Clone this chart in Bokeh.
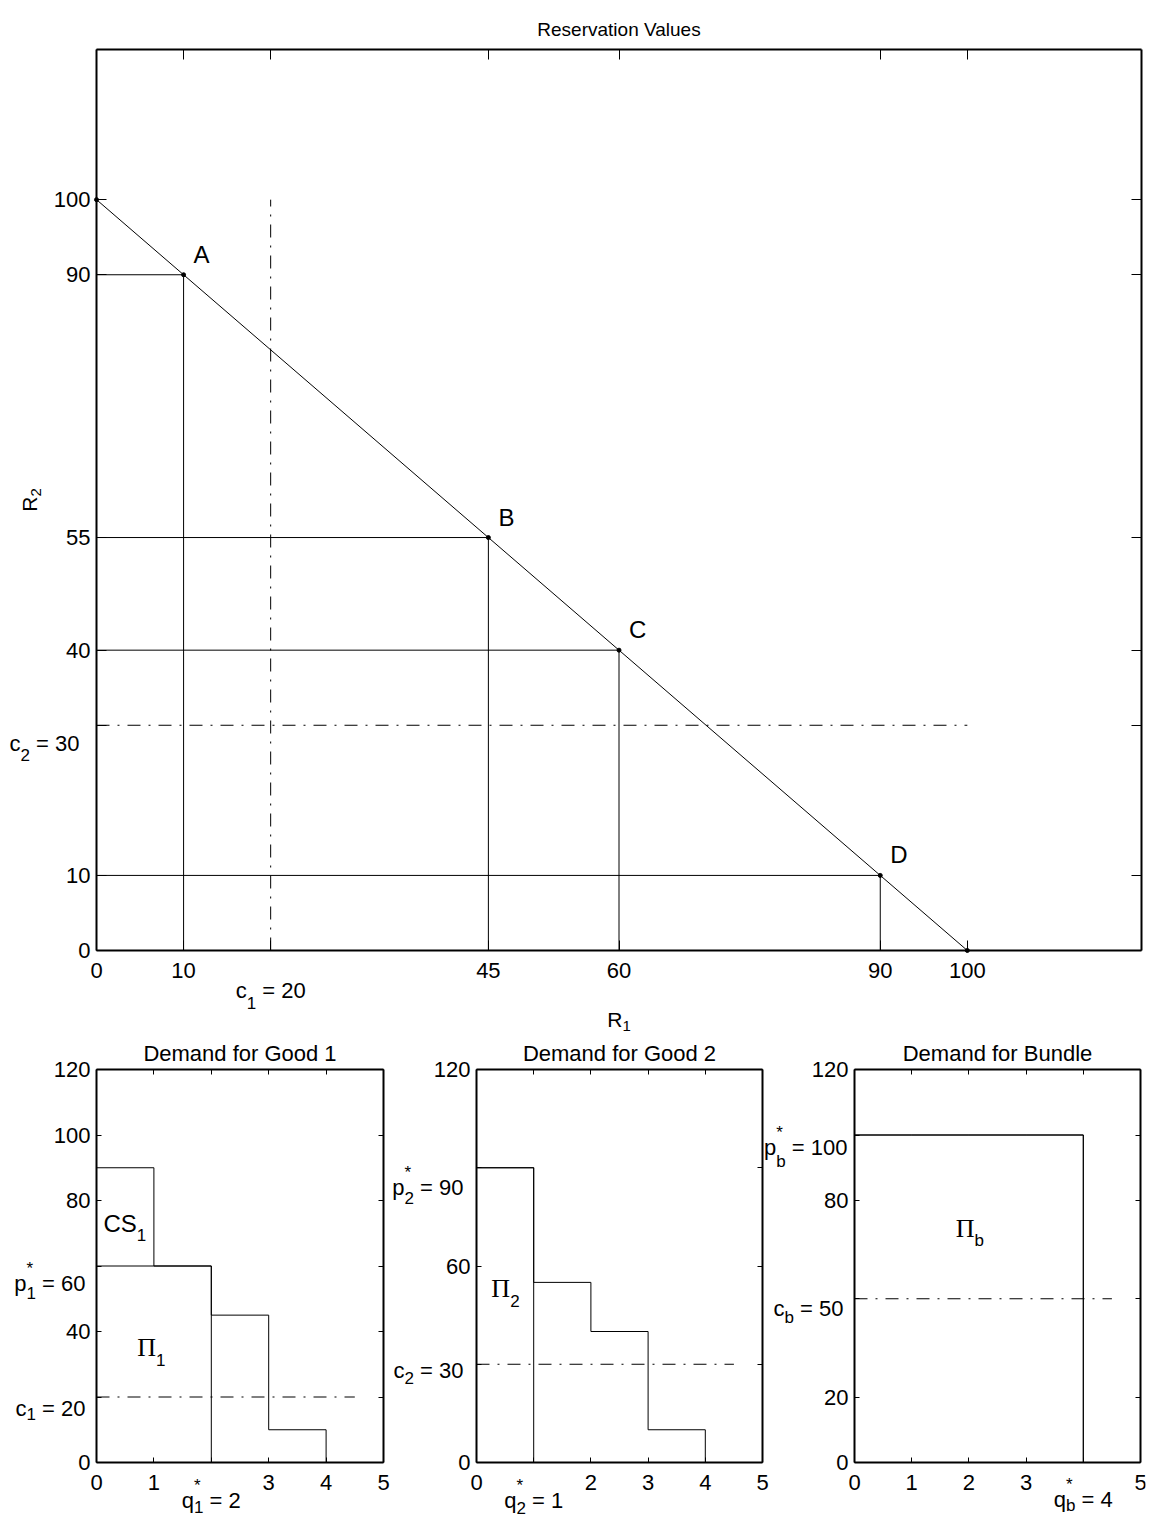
import re
import math
from bokeh.core.properties import value
from bokeh.plotting import figure
from bokeh.models import Range1d, FixedTicker, LinearAxis, Label, LabelSet, ColumnDataSource
from bokeh.layouts import column
from bokeh.embed import file_html
from bokeh.resources import INLINE

# ---------------- data ----------------
consumers = ["A", "B", "C", "D"]
r1 = [10, 45, 60, 90]          # reservation value for good 1
r2 = [90, 55, 40, 10]          # reservation value for good 2
bundle_price = 100             # budget line R1 + R2 = 100
c1 = 20
c2 = 30
cb = 50

top_xticks = [0, 10, 20, 45, 60, 90, 100]
top_xlabels = ["0", "10", "c_1 = 20", "45", "60", "90", "100"]
top_yticks = [0, 10, 30, 40, 55, 90, 100]
top_ylabels = ["0", "10", "c_2 = 30", "40", "55", "90", "100"]

q_ticks = [0, 1, 2, 3, 4, 5]

g1_prices = [90, 60, 45, 10]
g1_pstar = 60
g1_qstar = 2
g1_xlabels = ["0", "1", "q_1^* = 2", "3", "4", "5"]
g1_yticks = [0, 20, 40, 60, 80, 100, 120]
g1_ylabels = ["0", "c_1 = 20", "40", "p_1^* = 60", "80", "100", "120"]

g2_prices = [90, 55, 40, 10]
g2_pstar = 90
g2_qstar = 1
g2_xlabels = ["0", "q_2^* = 1", "2", "3", "4", "5"]
g2_yticks = [0, 30, 60, 90, 120]
g2_ylabels = ["0", "c_2 = 30", "60", "p_2^* = 90", "120"]

gb_prices = [100, 100, 100, 100]
gb_pstar = 100
gb_qstar = 4
gb_xlabels = ["0", "1", "2", "3", "q_b^* = 4", "5"]
gb_yticks = [0, 20, 50, 80, 100, 120]
gb_ylabels = ["0", "20", "c_b = 50", "80", "p_b^* = 100", "120"]

# ---------------- styling helpers ----------------
SANS = "Liberation Sans"
SERIF = "Liberation Serif"
DASHDOT = "13 8 2 8"
FS = 22      # tick label font size
SS = 17      # sub/superscript size
M = 4        # frame inset inside each canvas

AW = {c: 556 for c in "0123456789"}
AW.update({" ": 278, "=": 584, "*": 389, "c": 500, "p": 556, "q": 556, "b": 556,
           "R": 722, "C": 722, "S": 667, "A": 667})
TW = {"Π": 722}


def tw(s, size, font=SANS):
    table = TW if font == SERIF else AW
    return sum(table.get(ch, 556) for ch in s) / 1000.0 * size


def parse(lbl):
    m = re.match(r"^(.+?)_(\w)(?:\^(\S))?(.*)$", lbl)
    return m.group(1), m.group(2), m.group(3), m.group(4)


def lab(p, x, y, text, dx, dy, size, font=SANS, angle=0.0, xrn="default", align="left"):
    p.add_layout(Label(x=x, y=y, text=text, x_offset=dx, y_offset=dy, x_range_name=xrn,
                       text_font=font, text_font_size=f"{size}px", text_color="black",
                       text_align=align, text_baseline="alphabetic", angle=angle))


def rich(p, x, y, lbl, anchor="left", dx=0.0, dy=0.0, size=FS, sub_size=SS,
         base_font=SANS, sub_drop=9, sup_rise=15, xrn="default"):
    base, sub, sup, rest = parse(lbl)
    wb = tw(base, size, base_font)
    ws = max(tw(sub, sub_size), tw(sup or "", sub_size))
    lead = len(rest) - len(rest.lstrip(" "))
    rest_s = rest.strip(" ")
    wr = tw(rest, size)
    total = wb + ws + wr
    if anchor == "center":
        x0 = dx - total / 2
    elif anchor == "right":
        x0 = dx - total
    else:
        x0 = dx
    lab(p, x, y, base, x0, dy, size, base_font, xrn=xrn)
    lab(p, x, y, sub, x0 + wb, dy - sub_drop, sub_size, xrn=xrn)
    if sup:
        lab(p, x, y, sup, x0 + wb, dy + sup_rise, sub_size, xrn=xrn)
    if rest_s:
        lab(p, x, y, rest_s, x0 + wb + ws + tw(" " * lead, size), dy, size, xrn=xrn)


def fit_range(lo, hi, b_lo, b_hi, f_lo, f_hi):
    """Range whose [lo, hi] lands on pixels [b_lo, b_hi] of a frame spanning [f_lo, f_hi]."""
    s = (b_hi - b_lo) / (hi - lo)
    return Range1d(lo - (b_lo - f_lo) / s, hi + (f_hi - b_hi) / s)


def make_fig(W, H):
    p = figure(width=W, height=H, x_range=Range1d(0, 1), y_range=Range1d(0, 1),
               x_axis_location=None, y_axis_location=None, title=None,
               output_backend="svg", toolbar_location=None,
               min_border_left=M, min_border_right=M, min_border_top=M, min_border_bottom=0)
    p.grid.visible = False
    p.outline_line_color = None
    p.background_fill_color = "white"
    p.border_fill_color = "white"
    return p


def add_box(p, xr, yr, xt, xl, yt, yl, tick_len, xspec, yspec, xrn="default"):
    sides = [("below", True, yr[0], xt, xl), ("above", True, yr[1], xt, None),
             ("left", False, xr[0], yt, yl), ("right", False, xr[1], yt, None)]
    for place, is_x, loc, ticks, labels in sides:
        bounds = tuple(xr) if is_x else tuple(yr)
        ax = LinearAxis(fixed_location=loc, bounds=bounds, ticker=FixedTicker(ticks=ticks),
                        x_range_name=xrn, major_tick_in=tick_len, major_tick_out=0,
                        minor_tick_line_color=None, axis_line_width=2, axis_line_color="black",
                        major_tick_line_color="black", major_tick_line_width=1,
                        major_label_text_color=None, major_label_text_font_size="1px",
                        major_label_standoff=0)
        p.add_layout(ax, place)
        if labels is None:
            continue
        plain = [(t, l) for t, l in zip(ticks, labels) if "_" not in l]
        lax = LinearAxis(fixed_location=loc, bounds=bounds,
                         ticker=FixedTicker(ticks=[t for t, _ in plain]),
                         x_range_name=xrn, major_tick_in=0, major_tick_out=0,
                         axis_line_color=None, major_tick_line_color=None,
                         minor_tick_line_color=None,
                         major_label_overrides={t: l for t, l in plain},
                         major_label_text_font=SANS, major_label_text_font_size=f"{FS}px",
                         major_label_text_color="black",
                         major_label_standoff=12 if is_x else 6)
        p.add_layout(lax, place)
        for t, l in zip(ticks, labels):
            if "_" not in l:
                continue
            if is_x:
                below, drop = xspec[t]
                rich(p, t, yr[0], l, anchor="center", dy=-below, sub_drop=drop, xrn=xrn)
            else:
                gap, below, drop = yspec[t]
                rich(p, xr[0], t, l, anchor="right", dx=-gap, dy=-below, sub_drop=drop, xrn=xrn)


# ---------------- top figure: reservation values ----------------
TW_, TH_ = 1149, 1035
tbox = (96, 49, 1141, 950)          # left, top, right, bottom in canvas pixels
top = make_fig(TW_, TH_)
top.x_range = fit_range(0, 120, tbox[0], tbox[2], M, TW_ - M)
top.y_range = fit_range(0, 120, TH_ - tbox[3], TH_ - tbox[1], 0, TH_ - M)
add_box(top, (0, 120), (0, 120), top_xticks, top_xlabels, top_yticks, top_ylabels, 10,
        {20: (40, 12)}, {30: (17, 18, 12)})

top.line([0, bundle_price], [bundle_price, 0], line_color="black", line_width=1)
top.multi_line([[0, a] for a in r1], [[b, b] for b in r2], line_color="black", line_width=1)
top.multi_line([[a, a] for a in r1], [[0, b] for b in r2], line_color="black", line_width=1)
top.line([c1, c1], [0, bundle_price], line_color="black", line_width=1, line_dash=DASHDOT)
top.line([0, bundle_price], [c2, c2], line_color="black", line_width=1, line_dash=DASHDOT)
top.scatter(r1 + [0, bundle_price], r2 + [bundle_price, 0], size=4, color="black")
src = ColumnDataSource(dict(x=r1, y=r2, name=consumers))
top.add_layout(LabelSet(x="x", y="y", text="name", source=src, x_offset=10, y_offset=12,
                        text_font=value(SANS), text_font_size=value("24px"), text_color="black",
                        text_align="left", text_baseline="alphabetic"))
lab(top, 60, 120, "Reservation Values", 0, 20, 19, align="center")
rich(top, 60, 0, "R_1", anchor="center", dy=-69, size=21, sub_size=15, sub_drop=6)
ry_total = tw("R", 21) + tw("2", 15)
lab(top, 0, 60, "R", -67, -ry_total / 2, 21, angle=math.pi / 2)
lab(top, 0, 60, "2", -61, -ry_total / 2 + tw("R", 21), 15, angle=math.pi / 2)

# ---------------- bottom figure: three demand panels ----------------
BW_, BH_ = 1149, 482
b_top, b_bot = 34, 427
bot = make_fig(BW_, BH_)
bot.y_range = fit_range(0, 120, BH_ - b_bot, BH_ - b_top, 0, BH_ - M)

panels = [
    ("g1", (96, 383), "Demand for Good 1", g1_prices, g1_pstar, g1_qstar, c1,
     g1_xlabels, g1_yticks, g1_ylabels, {2: (38, 6)}, {20: (11, 11, 6), 60: (11, 17, 10)}),
    ("g2", (476, 762), "Demand for Good 2", g2_prices, g2_pstar, g2_qstar, c2,
     g2_xlabels, g2_yticks, g2_ylabels, {1: (38, 7)}, {30: (13, 6, 8), 90: (13, 20, 10)}),
    ("gb", (854, 1140), "Demand for Bundle", gb_prices, gb_pstar, gb_qstar, cb,
     gb_xlabels, gb_yticks, gb_ylabels, {4: (37, 6)}, {50: (11, 10, 9), 100: (7, 12, 14)}),
]
for name, (bl, br), title, prices, pstar, qstar, cost, xl, yt, yl, xs, ys in panels:
    bot.extra_x_ranges[name] = fit_range(0, 5, bl, br, M, BW_ - M)
    add_box(bot, (0, 5), (0, 120), q_ticks, xl, yt, yl, 5, xs, ys, xrn=name)
    qs = list(range(len(prices) + 1))
    bot.step(qs, prices + [0], mode="after", line_color="black", line_width=1, x_range_name=name)
    bot.line([0, qstar, qstar], [pstar, pstar, 0], line_color="black", line_width=1,
             x_range_name=name)
    bot.line([0, len(prices) + 0.5], [cost, cost], line_color="black", line_width=1,
             line_dash=DASHDOT, x_range_name=name)
    lab(bot, 2.5, 120, title, 0, 16, 22, xrn=name, align="center")

rich(bot, 0.12, 73, "CS_1", size=24, sub_drop=12, xrn="g1")
rich(bot, 0.71, 35, "Π_1", base_font=SERIF, size=26, sub_drop=12, xrn="g1")
rich(bot, 0.26, 53, "Π_2", base_font=SERIF, size=26, sub_drop=12, xrn="g2")
rich(bot, 1.77, 71.5, "Π_b", base_font=SERIF, size=26, sub_drop=12, xrn="gb")

layout = column(top, bot)
open("out.html", "w").write(file_html(layout, INLINE))
